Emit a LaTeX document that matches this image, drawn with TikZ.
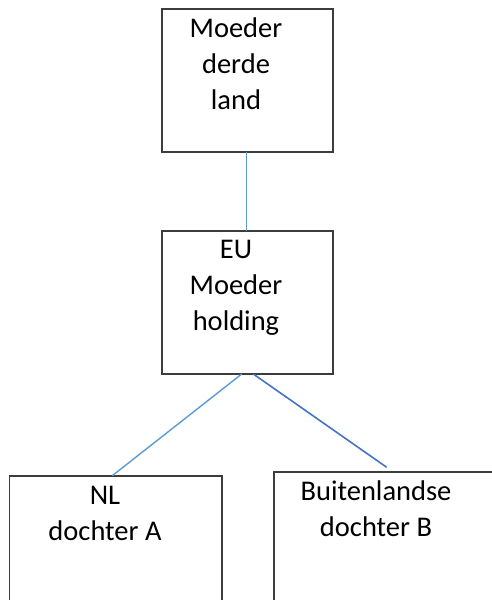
\documentclass[tikz,border=0pt]{standalone}
\usepackage{fontspec}
\setmainfont{Carlito}
\definecolor{boxgray}{HTML}{3C3C3C}
\definecolor{lightblue}{HTML}{5B9BD5}
\definecolor{darkblue}{HTML}{4472C4}
\begin{document}
\begin{tikzpicture}[x=1pt,y=-1pt,
  box/.style={draw=boxgray, line width=1.6pt, rectangle, inner sep=0pt, outer sep=0pt, anchor=north west},
  lbl/.style={font=\fontsize{28.5}{36}\selectfont, align=center, inner sep=0pt, anchor=base},
  light/.style={draw=lightblue, line width=1.4pt},
  dark/.style={draw=darkblue, line width=1.6pt}]
\useasboundingbox (0,0) rectangle (492,600);
\clip (0,0) rectangle (492,600);
\node[box, minimum width=171pt, minimum height=143pt] (top) at (162,9) {};
\node[box, minimum width=171pt, minimum height=143pt] (mid) at (162,231) {};
\node[box, minimum width=212.4pt, minimum height=200pt] (left) at (9.3,475.7) {};
\node[box, minimum width=260pt, minimum height=200pt] (right) at (274,471.7) {};
\node[lbl] (ttext) at (236,109.3) {Moeder\\derde\\land};
\node[lbl] (mtext) at (236,330.5) {EU\\Moeder\\holding};
\node[lbl] (ltext) at (105,540) {NL\\dochter A};
\node[lbl] (rtext) at (376,536) {Buitenlandse\\dochter B};
\coordinate (rend) at (386.7,467.3);
\draw[light] ([xshift=-0.8pt]top.south) -- ([xshift=-0.8pt]mid.north);
\draw[light] ([xshift=-5.8pt]mid.south) -- ([xshift=-3.2pt]left.north);
\draw[dark] ([xshift=5.8pt]mid.south) -- (rend);
\end{tikzpicture}
\end{document}
